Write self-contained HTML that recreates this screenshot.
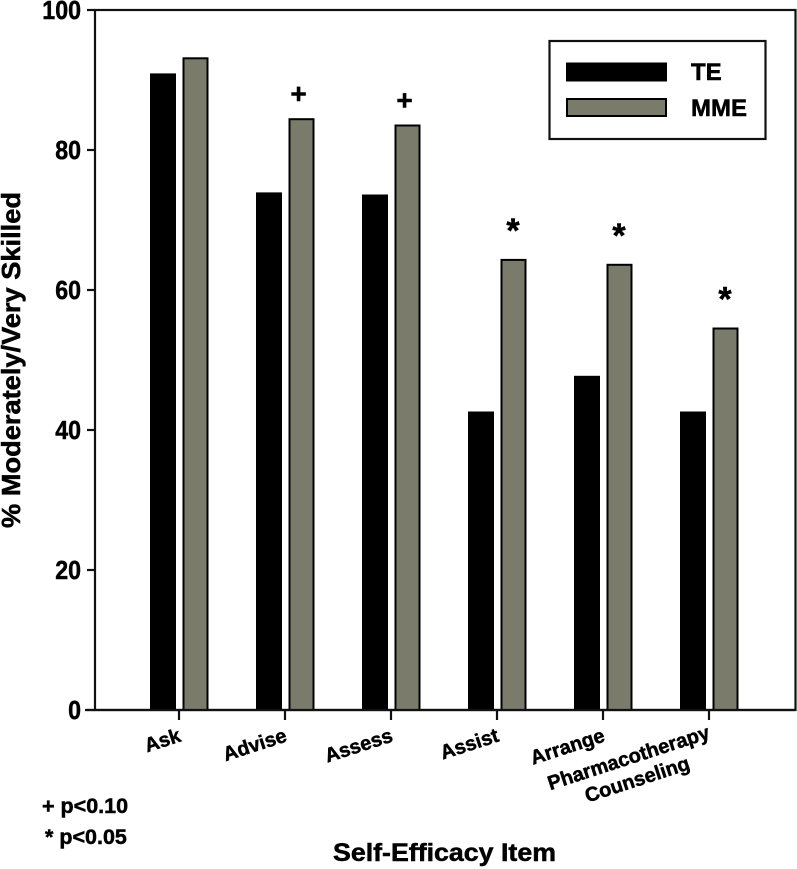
<!DOCTYPE html>
<html lang="en">
<head>
<meta charset="utf-8">
<title>Self-Efficacy Chart</title>
<style>
html,body{margin:0;padding:0;background:#fff;}
svg{display:block;font-family:"Liberation Sans",Arial,sans-serif;font-weight:bold;fill:#000;}
svg text{stroke:#000;stroke-width:0.5px;}
</style>
</head>
<body>
<svg id="chart" width="797" height="869" viewBox="0 0 797 869" xmlns="http://www.w3.org/2000/svg"></svg>
<script>
const categories = ["Ask", "Advise", "Assess", "Assist", "Arrange", "Pharmacotherapy\nCounseling"];
const teValues = [90.8, 73.8, 73.5, 42.5, 47.6, 42.5];
const mmeValues = [93.1, 84.4, 83.5, 64.3, 63.6, 54.5];
const sigMarkers = ["", "+", "+", "*", "*", "*"];
const yTicks = [0, 20, 40, 60, 80, 100];
const seriesNames = ["TE", "MME"];
const footnotes = ["+ p<0.10", "* p<0.05"];

const svg = document.getElementById('chart');
const NS = 'http://www.w3.org/2000/svg';
const plot = {left: 95, right: 795.5, top: 10, bottom: 710};
const yMax = 100;
const firstTick = 179, bandStep = 106;
function yScale(v) { return plot.bottom - (v / yMax) * (plot.bottom - plot.top); }
function xScale(i) { return firstTick + i * bandStep; }
function make(tag, attrs, text) {
  const el = document.createElementNS(NS, tag);
  for (const k in attrs) el.setAttribute(k, attrs[k]);
  if (text !== undefined) el.textContent = text;
  svg.appendChild(el);
  return el;
}
const AXIS = '#111';

// frame
let el = make('rect', {x: plot.left, y: plot.top, width: plot.right - plot.left, height: plot.bottom - plot.top, fill: '#fff', stroke: AXIS, 'stroke-width': 2.2});



// y axis
yTicks.forEach(function (t) {
  const y = yScale(t);
  const tick = make('line', {x1: plot.left - 8, x2: plot.left, y1: y, y2: y, stroke: AXIS, 'stroke-width': 2.2});
  
  
  const lab = make('text', {x: 81, y: y + 9, 'text-anchor': 'end', 'font-size': 25.5, textLength: String(t).length * 12.9, lengthAdjust: 'spacingAndGlyphs'}, String(t));
  
  
});

// bars
const barW = 24, teOffset = -16, mmeOffset = 16.5;
categories.forEach(function (c, i) {
  const cx = xScale(i);
  const teX = cx + teOffset - barW / 2;
  const te = make('rect', {x: teX, y: yScale(teValues[i]), width: barW, height: plot.bottom - yScale(teValues[i]), fill: '#000', stroke: '#000', 'stroke-width': 2});
  
  
  const mmeX = cx + mmeOffset - barW / 2;
  const mme = make('rect', {x: mmeX, y: yScale(mmeValues[i]), width: barW, height: plot.bottom - yScale(mmeValues[i]), fill: '#7b7b6b', stroke: '#000', 'stroke-width': 2});
  
  

  const tick = make('line', {x1: cx, x2: cx, y1: plot.bottom, y2: plot.bottom + 10, stroke: AXIS, 'stroke-width': 2.2});
  
  

  // rotated category labels, right end anchored near the tick
  const lines = c.split('\n');
  lines.forEach(function (line, j) {
    const ax = lines.length > 1 ? cx + 2 - j * 20 : cx + 3;
    const ay = lines.length > 1 ? plot.bottom + 28 + j * 31 : plot.bottom + 31;
    const lab = make('text', {x: ax, y: ay, 'text-anchor': 'end', 'font-size': 20, transform: 'rotate(-18 ' + ax + ' ' + ay + ')'}, line);
    
    
  });

  // significance marker above MME bar
  const m = sigMarkers[i];
  if (m) {
    const my = yScale(mmeValues[i]) + (m === '+' ? -16 : -18);
    const mark = make('text', {x: cx + (m === '+' ? 13.5 : 16), y: my, 'text-anchor': 'middle', 'font-size': m === '+' ? 28 : 34}, m);
    
    
  }
});

// re-stroke baseline over bars
el = make('line', {x1: plot.left - 10, x2: plot.right, y1: plot.bottom, y2: plot.bottom, stroke: AXIS, 'stroke-width': 2.2});



// axis titles
el = make('text', {x: 444.5, y: 861, 'text-anchor': 'middle', 'font-size': 25, textLength: 223, lengthAdjust: 'spacingAndGlyphs'}, 'Self-Efficacy Item');


el = make('text', {x: 20, y: 360, 'text-anchor': 'middle', 'font-size': 26, textLength: 336, lengthAdjust: 'spacingAndGlyphs', transform: 'rotate(-90 20 360)'}, '% Moderately/Very Skilled');



// footnotes
el = make('text', {x: 42, y: 813, 'font-size': 21.5}, footnotes[0]);


el = make('text', {x: 45, y: 844, 'font-size': 21.5}, footnotes[1]);



// legend
el = make('rect', {x: 549.5, y: 41, width: 216, height: 98, fill: '#fff', stroke: AXIS, 'stroke-width': 2.2});


el = make('rect', {x: 567, y: 63.5, width: 99, height: 17, fill: '#000', stroke: '#000', 'stroke-width': 2});


el = make('rect', {x: 567, y: 99, width: 99, height: 17, fill: '#7b7b6b', stroke: '#000', 'stroke-width': 2});


el = make('text', {x: 691, y: 80, 'font-size': 24}, seriesNames[0]);


el = make('text', {x: 691, y: 116, 'font-size': 24}, seriesNames[1]);


</script>
</body>
</html>
